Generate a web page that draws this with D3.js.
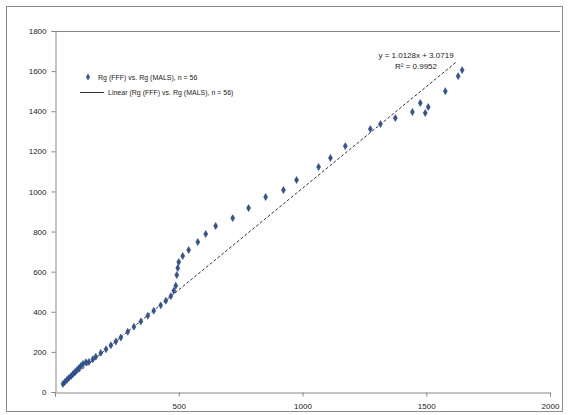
<!DOCTYPE html>
<html><head><meta charset="utf-8">
<script src="https://cdnjs.cloudflare.com/ajax/libs/d3/7.8.5/d3.min.js"></script>
<style>body{margin:0;background:#fff}svg{display:block}text{font-family:"Liberation Sans",Arial,sans-serif}</style>
</head><body><svg id="c" width="569" height="415"></svg>
<script>
const xVals = [32,40,48,56,65,73,81,89,97,105,113,125,137,153,165,185,206,226,246,266,294,319,347,375,399,427,448,468,480,488,492,496,500,516,540,577,609,649,718,782,851,923,976,1065,1113,1173,1274,1315,1375,1444,1476,1508,1496,1577,1629,1645];
const yVals = [40,50,60,70,80,90,100,110,120,130,140,148,150,163,176,195,213,233,252,272,300,325,352,380,405,432,455,478,505,530,583,618,648,678,708,748,788,828,867,917,972,1007,1057,1122,1167,1226,1311,1336,1366,1396,1441,1421,1391,1500,1575,1605];
const xTicks = [0,500,1000,1500,2000];
const yTicks = [0,200,400,600,800,1000,1200,1400,1600,1800];
const slope = 1.0128, intercept = 3.0719, r2 = 0.9952;
const seriesName = "Rg (FFF) vs. Rg (MALS), n = 56";
const trendName = "Linear (Rg (FFF) vs. Rg (MALS), n = 56)";

const svg = d3.select("#c");
svg.append("rect").attr("x",6.5).attr("y",6.5).attr("width",556).attr("height",405).attr("fill","#fff").attr("stroke","#8c8c8c");

const x = d3.scaleLinear().domain([0,2000]).range([55,550]);
const y = d3.scaleLinear().domain([0,1800]).range([392,31]);

svg.append("line").attr("x1",55).attr("x2",560).attr("y1",y(1800)+0.5).attr("y2",y(1800)+0.5).attr("stroke","#888");

const xa = svg.append("g").attr("transform","translate(0,392.5)")
  .call(d3.axisBottom(x).tickValues(xTicks).tickSize(4).tickFormat(d=>d===0?"":d3.format("d")(d)));
const ya = svg.append("g").attr("transform","translate(55.5,0)")
  .call(d3.axisLeft(y).tickValues(yTicks).tickSize(4).tickFormat(d3.format("d")));
[xa,ya].forEach(g=>{g.select(".domain").attr("stroke","#888");g.selectAll(".tick line").attr("stroke","#888");
  g.selectAll("text").attr("font-size",8).attr("fill","#222");});
xa.selectAll("text").attr("dy","1.2em");
ya.selectAll("text").attr("dx","-2");

const data = xVals.map((v,i)=>({x:v,y:yVals[i]}));
const xmin = d3.min(xVals), xmax = 1620;
svg.append("line").attr("x1",x(xmin)).attr("y1",y(slope*xmin+intercept))
  .attr("x2",x(xmax)).attr("y2",y(slope*xmax+intercept))
  .attr("stroke","#333").attr("stroke-width",1).attr("stroke-dasharray","3,2");

const diamond = d3.symbol().type(d3.symbolDiamond).size(14);
svg.append("g").selectAll("path").data(data).join("path")
  .attr("transform",d=>`translate(${x(d.x)},${y(d.y)})`).attr("d",diamond)
  .attr("fill","#2f5597").attr("stroke","#1f3f75").attr("stroke-width",0.5);

svg.append("text").attr("x",416).attr("y",58).attr("text-anchor","middle").attr("font-size",8).attr("fill","#222")
  .text(`y = ${slope}x + ${intercept}`);
svg.append("text").attr("x",416).attr("y",69).attr("text-anchor","middle").attr("font-size",8).attr("fill","#222")
  .text(`R² = ${r2}`);

const lg = svg.append("g");
lg.append("path").attr("transform","translate(88,77)").attr("d",diamond).attr("fill","#2f5597");
lg.append("text").attr("x",98).attr("y",80).attr("font-size",7).attr("fill","#222").text(seriesName);
lg.append("line").attr("x1",80).attr("x2",104).attr("y1",92.5).attr("y2",92.5).attr("stroke","#333");
lg.append("text").attr("x",108).attr("y",95).attr("font-size",7).attr("fill","#222").text(trendName);
</script></body></html>
